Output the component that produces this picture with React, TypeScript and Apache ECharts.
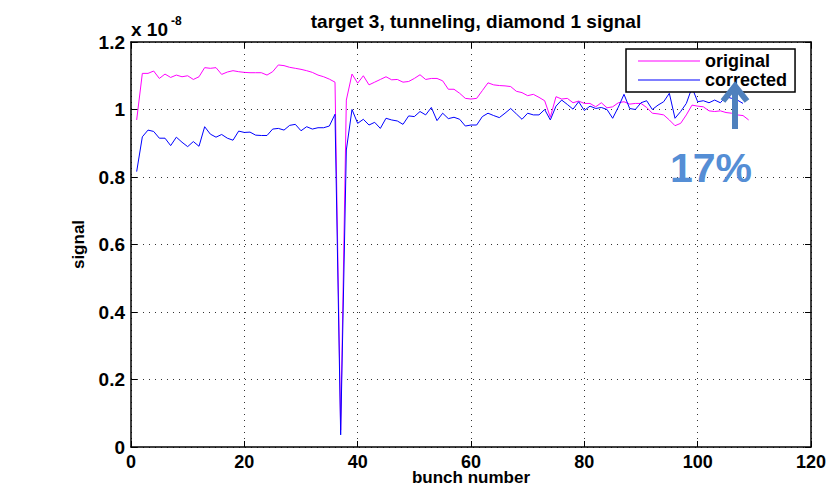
import React, { useEffect, useRef } from "react";
import * as echarts from "echarts";

const FONT = "'Liberation Sans', Arial, Helvetica, sans-serif";

const titleText = "target 3, tunneling, diamond 1 signal";
const xName = "bunch number";
const yName = "signal";
const seriesNames = ["original", "corrected"];
const annotation = "17%";

// signal values in units of 1e-8, bunch numbers 1..N
const original = [
  0.969, 1.107, 1.107, 1.114, 1.092, 1.105, 1.095, 1.102, 1.097, 1.1,
  1.089, 1.097, 1.124, 1.122, 1.124, 1.104, 1.111, 1.115, 1.112, 1.11,
  1.109, 1.109, 1.109, 1.102, 1.112, 1.132, 1.13, 1.125, 1.122, 1.119,
  1.115, 1.11, 1.102, 1.097, 1.09, 1.081, 0.05, 1.028, 1.105, 1.078,
  1.1, 1.073, 1.081, 1.089, 1.097, 1.088, 1.089, 1.081, 1.083, 1.092,
  1.103, 1.089, 1.092, 1.092, 1.085, 1.06, 1.06, 1.048, 1.033, 1.031,
  1.033, 1.056, 1.079, 1.073, 1.071, 1.07, 1.068, 1.054, 1.05, 1.041,
  1.045, 1.036, 1.026, 0.977, 1.038, 1.031, 1.033, 1.02, 1.025, 1.018,
  1.018, 1.008, 1.02, 1.005, 1.008, 1.02, 1.023, 1.016, 1.018, 1.018,
  1.006, 0.989, 0.987, 0.984, 0.969, 0.952, 0.959, 0.984, 1.013, 1.01,
  1.008, 0.996, 0.994, 0.996, 0.991, 0.989, 0.984, 0.982, 0.969,
];

const corrected = [
  0.816, 0.919, 0.939, 0.935, 0.915, 0.915, 0.893, 0.918, 0.903, 0.89,
  0.905, 0.891, 0.949, 0.927, 0.918, 0.926, 0.915, 0.909, 0.936, 0.932,
  0.933, 0.924, 0.923, 0.923, 0.942, 0.944, 0.939, 0.953, 0.956, 0.937,
  0.949, 0.942, 0.946, 0.946, 0.951, 0.986, 0.036, 0.88, 1.0, 0.959,
  0.971, 0.954, 0.962, 0.944, 0.974, 0.969, 0.966, 0.956, 0.981, 0.979,
  0.994, 0.984, 1.006, 0.967, 0.989, 0.973, 0.977, 0.971, 0.951, 0.954,
  0.954, 0.979, 0.989, 0.982, 0.976, 0.989, 1.003, 0.987, 0.971, 0.989,
  0.984, 0.984, 1.0, 0.969, 1.01, 1.028, 1.015, 1.001, 1.023, 0.997,
  1.01, 1.003, 1.006, 1.0, 0.974, 1.007, 1.045, 1.003, 1.0, 1.02,
  1.026, 1.0, 1.013, 1.023, 1.048, 0.974, 0.994, 1.018, 1.065, 1.023,
  1.026, 1.02, 1.028, 1.02, 1.038, 1.033, 1.028, 1.018,
];

const X_MIN = 0;
const X_MAX = 120;
const X_STEP = 20;
const Y_MIN = 0;
const Y_MAX = 1.2;
const Y_STEP = 0.2;

const W = 835;
const H = 487;

export default function App() {
  const ref = useRef<HTMLDivElement>(null);

  useEffect(() => {
    if (!ref.current) return;
    document.body.style.margin = "0";
    const chart = echarts.init(ref.current, undefined, { renderer: "svg", width: W, height: H });

    const axisLine = { show: true, onZero: false, lineStyle: { color: "#000", width: 1.5 } };
    const axisTick = { show: true, inside: true, length: 6, lineStyle: { color: "#000", width: 1 } };
    const gridLine = { show: true, lineStyle: { color: "#333", width: 1, type: [1, 5] } };
    const labelStyle = { color: "#000", fontFamily: FONT, fontWeight: "bold", fontSize: 19 };

    const option: any = {
      animation: false,
      backgroundColor: "#fff",
      textStyle: { fontFamily: FONT },
      title: {
        text: titleText,
        left: 471,
        top: 7,
        textAlign: "center",
        textStyle: { color: "#000", fontFamily: FONT, fontWeight: "bold", fontSize: 19 },
      },
      grid: { left: 131, right: 24, top: 42, bottom: 40, containLabel: false, outerBoundsMode: "none" },
      xAxis: [
        {
          type: "value",
          min: X_MIN,
          max: X_MAX,
          interval: X_STEP,
          name: xName,
          nameLocation: "middle",
          nameGap: 23,
          nameMoveOverlap: false,
          nameTextStyle: { ...labelStyle, fontSize: 17, lineHeight: 15, verticalAlign: "top" },
          axisLine,
          axisTick,
          axisLabel: { ...labelStyle, fontSize: 18, lineHeight: 15, margin: 7 },
          splitLine: gridLine,
        },
        {
          type: "value",
          position: "top",
          min: X_MIN,
          max: X_MAX,
          interval: X_STEP,
          axisLine,
          axisTick,
          axisLabel: { show: false },
          splitLine: { show: false },
        },
      ],
      yAxis: [
        {
          type: "value",
          min: Y_MIN,
          max: Y_MAX,
          interval: Y_STEP,
          name: yName,
          nameLocation: "middle",
          nameGap: 44,
          nameRotate: 90,
          nameTextStyle: { ...labelStyle, fontSize: 17 },
          axisLine,
          axisTick,
          axisLabel: {
            ...labelStyle,
            margin: 6,
            formatter: (v: number) => String(Number(v.toFixed(1))),
          },
          splitLine: gridLine,
        },
        {
          type: "value",
          position: "right",
          min: Y_MIN,
          max: Y_MAX,
          interval: Y_STEP,
          axisLine,
          axisTick,
          axisLabel: { show: false },
          splitLine: { show: false },
        },
      ],
      legend: {
        orient: "vertical",
        left: 626,
        top: 49,
        backgroundColor: "#fff",
        borderColor: "#000",
        borderWidth: 1.5,
        borderRadius: 0,
        padding: [3, 8, 3, 12],
        itemGap: 1,
        itemWidth: 62,
        itemHeight: 1,
        icon: "rect",
        data: seriesNames,
        textStyle: { color: "#000", fontFamily: FONT, fontWeight: "bold", fontSize: 18, lineHeight: 18 },
      },
      series: [
        {
          name: seriesNames[0],
          type: "line",
          data: original.map((v, i) => [i + 1, v]),
          symbol: "none",
          showSymbol: false,
          lineStyle: { color: "#ff00ff", width: 1 },
          itemStyle: { color: "#ff00ff" },
          z: 2,
        },
        {
          name: seriesNames[1],
          type: "line",
          data: corrected.map((v, i) => [i + 1, v]),
          symbol: "none",
          showSymbol: false,
          lineStyle: { color: "#0000ff", width: 1 },
          itemStyle: { color: "#0000ff" },
          z: 3,
        },
      ],
      graphic: [
        {
          type: "text",
          x: 131,
          y: 29,
          style: {
            text: "x 10",
            fill: "#000",
            font: `bold 19px ${FONT}`,
            verticalAlign: "middle",
          },
        },
        {
          type: "text",
          x: 171,
          y: 21,
          style: {
            text: "-8",
            fill: "#000",
            font: `bold 12px ${FONT}`,
            verticalAlign: "middle",
          },
        },
        {
          type: "line",
          z: 100,
          shape: { x1: 735, y1: 129, x2: 735, y2: 88 },
          style: { stroke: "#4f81bd", lineWidth: 6 },
        },
        {
          type: "polyline",
          z: 100,
          shape: { points: [[723, 101], [735, 86], [747, 101]] },
          style: { stroke: "#4f81bd", lineWidth: 6, fill: null },
        },
        {
          type: "text",
          z: 100,
          x: 711,
          y: 168,
          style: {
            text: annotation,
            fill: "#558ed5",
            font: `bold 41px ${FONT}`,
            align: "center",
            verticalAlign: "middle",
          },
        },
      ],
    };

    chart.setOption(option);
    return () => chart.dispose();
  }, []);

  return <div ref={ref} style={{ width: W, height: H }} />;
}
